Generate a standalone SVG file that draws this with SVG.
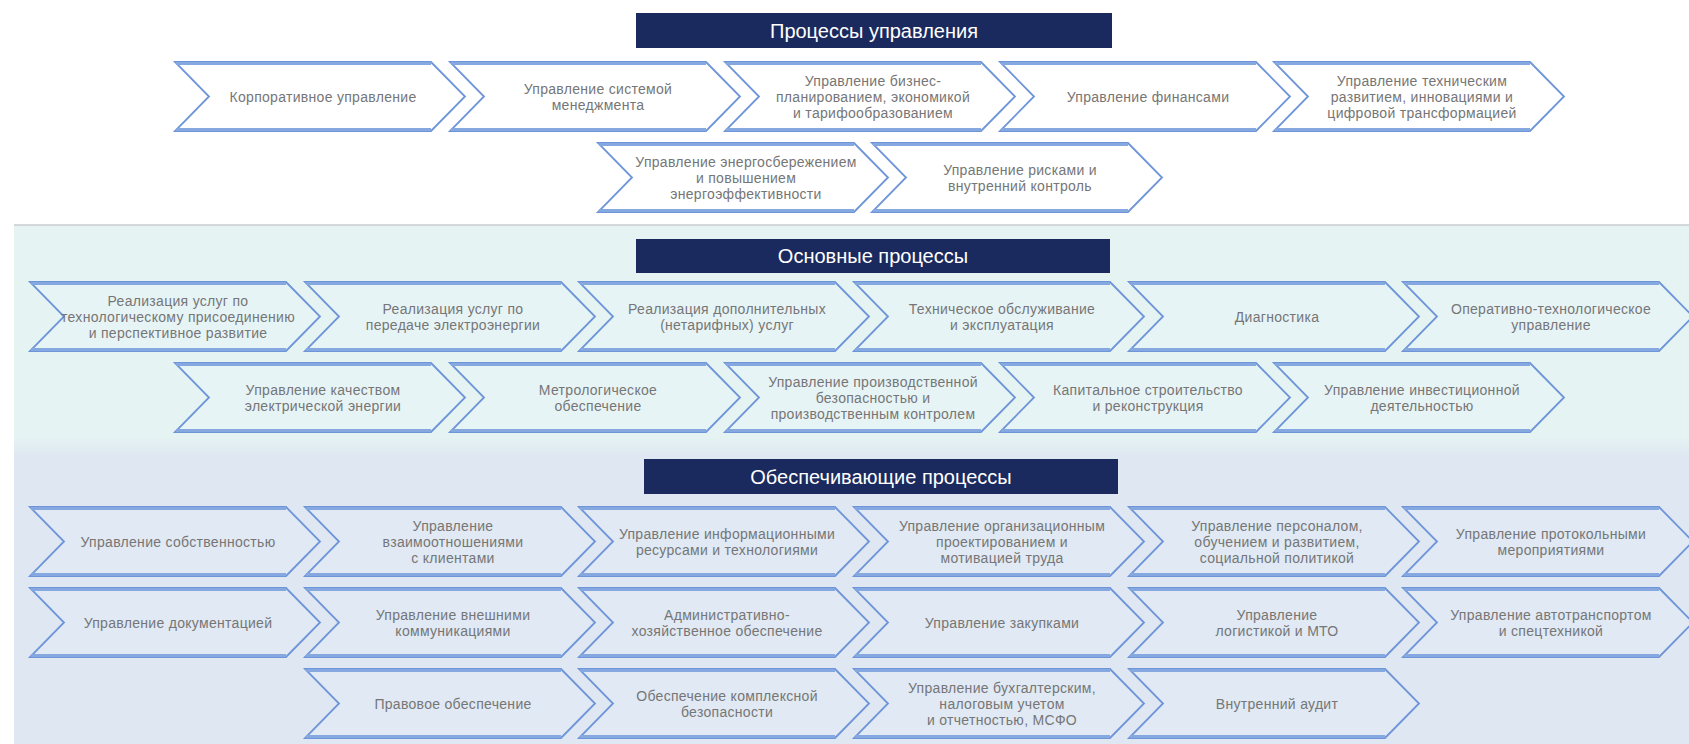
<svg xmlns="http://www.w3.org/2000/svg" xmlns:xlink="http://www.w3.org/1999/xlink" width="1689" height="744" viewBox="0 0 1689 744">
<style>
.title-box{fill:#1b2a5e}
.title{font-family:"Liberation Sans",Arial,sans-serif;font-size:20px;fill:#ffffff;text-anchor:middle}
.lbl{font-family:"Liberation Sans",Arial,sans-serif;font-size:14px;fill:#767676;text-anchor:middle;letter-spacing:0.3px}
.body{stroke:#6e95d8;stroke-width:1.8;stroke-linejoin:miter}
.edge{stroke:#86a8e0;stroke-width:3.2;fill:none}
.w{fill:#ffffff}
.t{fill:#e7f4f6}
.b{fill:#e0e9f4}
</style>
<defs>
<g id="chev">
<path class="body" d="M0,0 H256 L290,34.5 L256,69 H0 L34,34.5 Z"/>
<path class="edge" d="M1,1.5 H256 M1,67.5 H256"/>
</g>
<linearGradient id="secgrad" x1="0" y1="0" x2="0" y2="1">
<stop offset="0" stop-color="#e5f3f3"/>
<stop offset="1" stop-color="#dfe7f2"/>
</linearGradient>
</defs>
<rect x="0" y="0" width="1689" height="744" fill="#ffffff"/>
<g id="sections">
<rect x="14" y="225" width="1675" height="212" fill="#e5f3f3"/>
<rect x="14" y="437" width="1675" height="20" fill="url(#secgrad)"/>
<rect x="14" y="457" width="1675" height="287" fill="#dfe7f2"/>
<line x1="14" y1="225" x2="1689" y2="225" stroke="#c8cccc" stroke-width="1.5"/>
</g>
<g id="headers">
<g id="h1"><rect class="title-box" x="636" y="13" width="476" height="35"/><text class="title" x="874" y="37.5">Процессы управления</text></g>
<g id="h2"><rect class="title-box" x="636" y="239" width="474" height="34"/><text class="title" x="873" y="263">Основные процессы</text></g>
<g id="h3"><rect class="title-box" x="644" y="459" width="474" height="35"/><text class="title" x="881" y="483.5">Обеспечивающие процессы</text></g>
</g>
<g id="connectors"></g>
<g id="management">
<g id="m1" transform="translate(175,62)"><use xlink:href="#chev" href="#chev" class="w"/><text class="lbl" x="148" y="39.5">Корпоративное управление</text></g>
<g id="m2" transform="translate(450,62)"><use xlink:href="#chev" href="#chev" class="w"/><text class="lbl" x="148" y="31.5">Управление системой<tspan x="148" dy="16">менеджмента</tspan></text></g>
<g id="m3" transform="translate(725,62)"><use xlink:href="#chev" href="#chev" class="w"/><text class="lbl" x="148" y="23.5">Управление бизнес-<tspan x="148" dy="16">планированием, экономикой</tspan><tspan x="148" dy="16">и тарифообразованием</tspan></text></g>
<g id="m4" transform="translate(1000,62)"><use xlink:href="#chev" href="#chev" class="w"/><text class="lbl" x="148" y="39.5">Управление финансами</text></g>
<g id="m5" transform="translate(1274,62)"><use xlink:href="#chev" href="#chev" class="w"/><text class="lbl" x="148" y="23.5">Управление техническим<tspan x="148" dy="16">развитием, инновациями и</tspan><tspan x="148" dy="16">цифровой трансформацией</tspan></text></g>
<g id="m6" transform="translate(598,143)"><use xlink:href="#chev" href="#chev" class="w"/><text class="lbl" x="148" y="23.5">Управление энергосбережением<tspan x="148" dy="16">и повышением</tspan><tspan x="148" dy="16">энергоэффективности</tspan></text></g>
<g id="m7" transform="translate(872,143)"><use xlink:href="#chev" href="#chev" class="w"/><text class="lbl" x="148" y="31.5">Управление рисками и<tspan x="148" dy="16">внутренний контроль</tspan></text></g>
</g>
<g id="core">
<g id="c1" transform="translate(30,282)"><use xlink:href="#chev" href="#chev" class="t"/><text class="lbl" x="148" y="23.5">Реализация услуг по<tspan x="148" dy="16">технологическому присоединению</tspan><tspan x="148" dy="16">и перспективное развитие</tspan></text></g>
<g id="c2" transform="translate(305,282)"><use xlink:href="#chev" href="#chev" class="t"/><text class="lbl" x="148" y="31.5">Реализация услуг по<tspan x="148" dy="16">передаче электроэнергии</tspan></text></g>
<g id="c3" transform="translate(579,282)"><use xlink:href="#chev" href="#chev" class="t"/><text class="lbl" x="148" y="31.5">Реализация дополнительных<tspan x="148" dy="16">(нетарифных) услуг</tspan></text></g>
<g id="c4" transform="translate(854,282)"><use xlink:href="#chev" href="#chev" class="t"/><text class="lbl" x="148" y="31.5">Техническое обслуживание<tspan x="148" dy="16">и эксплуатация</tspan></text></g>
<g id="c5" transform="translate(1129,282)"><use xlink:href="#chev" href="#chev" class="t"/><text class="lbl" x="148" y="39.5">Диагностика</text></g>
<g id="c6" transform="translate(1403,282)"><use xlink:href="#chev" href="#chev" class="t"/><text class="lbl" x="148" y="31.5">Оперативно-технологическое<tspan x="148" dy="16">управление</tspan></text></g>
<g id="c7" transform="translate(175,363)"><use xlink:href="#chev" href="#chev" class="t"/><text class="lbl" x="148" y="31.5">Управление качеством<tspan x="148" dy="16">электрической энергии</tspan></text></g>
<g id="c8" transform="translate(450,363)"><use xlink:href="#chev" href="#chev" class="t"/><text class="lbl" x="148" y="31.5">Метрологическое<tspan x="148" dy="16">обеспечение</tspan></text></g>
<g id="c9" transform="translate(725,363)"><use xlink:href="#chev" href="#chev" class="t"/><text class="lbl" x="148" y="23.5">Управление производственной<tspan x="148" dy="16">безопасностью и</tspan><tspan x="148" dy="16">производственным контролем</tspan></text></g>
<g id="c10" transform="translate(1000,363)"><use xlink:href="#chev" href="#chev" class="t"/><text class="lbl" x="148" y="31.5">Капитальное строительство<tspan x="148" dy="16">и реконструкция</tspan></text></g>
<g id="c11" transform="translate(1274,363)"><use xlink:href="#chev" href="#chev" class="t"/><text class="lbl" x="148" y="31.5">Управление инвестиционной<tspan x="148" dy="16">деятельностью</tspan></text></g>
</g>
<g id="support">
<g id="s1" transform="translate(30,507)"><use xlink:href="#chev" href="#chev" class="b"/><text class="lbl" x="148" y="39.5">Управление собственностью</text></g>
<g id="s2" transform="translate(305,507)"><use xlink:href="#chev" href="#chev" class="b"/><text class="lbl" x="148" y="23.5">Управление<tspan x="148" dy="16">взаимоотношениями</tspan><tspan x="148" dy="16">с клиентами</tspan></text></g>
<g id="s3" transform="translate(579,507)"><use xlink:href="#chev" href="#chev" class="b"/><text class="lbl" x="148" y="31.5">Управление информационными<tspan x="148" dy="16">ресурсами и технологиями</tspan></text></g>
<g id="s4" transform="translate(854,507)"><use xlink:href="#chev" href="#chev" class="b"/><text class="lbl" x="148" y="23.5">Управление организационным<tspan x="148" dy="16">проектированием и</tspan><tspan x="148" dy="16">мотивацией труда</tspan></text></g>
<g id="s5" transform="translate(1129,507)"><use xlink:href="#chev" href="#chev" class="b"/><text class="lbl" x="148" y="23.5">Управление персоналом,<tspan x="148" dy="16">обучением и развитием,</tspan><tspan x="148" dy="16">социальной политикой</tspan></text></g>
<g id="s6" transform="translate(1403,507)"><use xlink:href="#chev" href="#chev" class="b"/><text class="lbl" x="148" y="31.5">Управление протокольными<tspan x="148" dy="16">мероприятиями</tspan></text></g>
<g id="s7" transform="translate(30,588)"><use xlink:href="#chev" href="#chev" class="b"/><text class="lbl" x="148" y="39.5">Управление документацией</text></g>
<g id="s8" transform="translate(305,588)"><use xlink:href="#chev" href="#chev" class="b"/><text class="lbl" x="148" y="31.5">Управление внешними<tspan x="148" dy="16">коммуникациями</tspan></text></g>
<g id="s9" transform="translate(579,588)"><use xlink:href="#chev" href="#chev" class="b"/><text class="lbl" x="148" y="31.5">Административно-<tspan x="148" dy="16">хозяйственное обеспечение</tspan></text></g>
<g id="s10" transform="translate(854,588)"><use xlink:href="#chev" href="#chev" class="b"/><text class="lbl" x="148" y="39.5">Управление закупками</text></g>
<g id="s11" transform="translate(1129,588)"><use xlink:href="#chev" href="#chev" class="b"/><text class="lbl" x="148" y="31.5">Управление<tspan x="148" dy="16">логистикой и МТО</tspan></text></g>
<g id="s12" transform="translate(1403,588)"><use xlink:href="#chev" href="#chev" class="b"/><text class="lbl" x="148" y="31.5">Управление автотранспортом<tspan x="148" dy="16">и спецтехникой</tspan></text></g>
<g id="s13" transform="translate(305,669)"><use xlink:href="#chev" href="#chev" class="b"/><text class="lbl" x="148" y="39.5">Правовое обеспечение</text></g>
<g id="s14" transform="translate(579,669)"><use xlink:href="#chev" href="#chev" class="b"/><text class="lbl" x="148" y="31.5">Обеспечение комплексной<tspan x="148" dy="16">безопасности</tspan></text></g>
<g id="s15" transform="translate(854,669)"><use xlink:href="#chev" href="#chev" class="b"/><text class="lbl" x="148" y="23.5">Управление бухгалтерским,<tspan x="148" dy="16">налоговым учетом</tspan><tspan x="148" dy="16">и отчетностью, МСФО</tspan></text></g>
<g id="s16" transform="translate(1129,669)"><use xlink:href="#chev" href="#chev" class="b"/><text class="lbl" x="148" y="39.5">Внутренний аудит</text></g>
</g>
</svg>
